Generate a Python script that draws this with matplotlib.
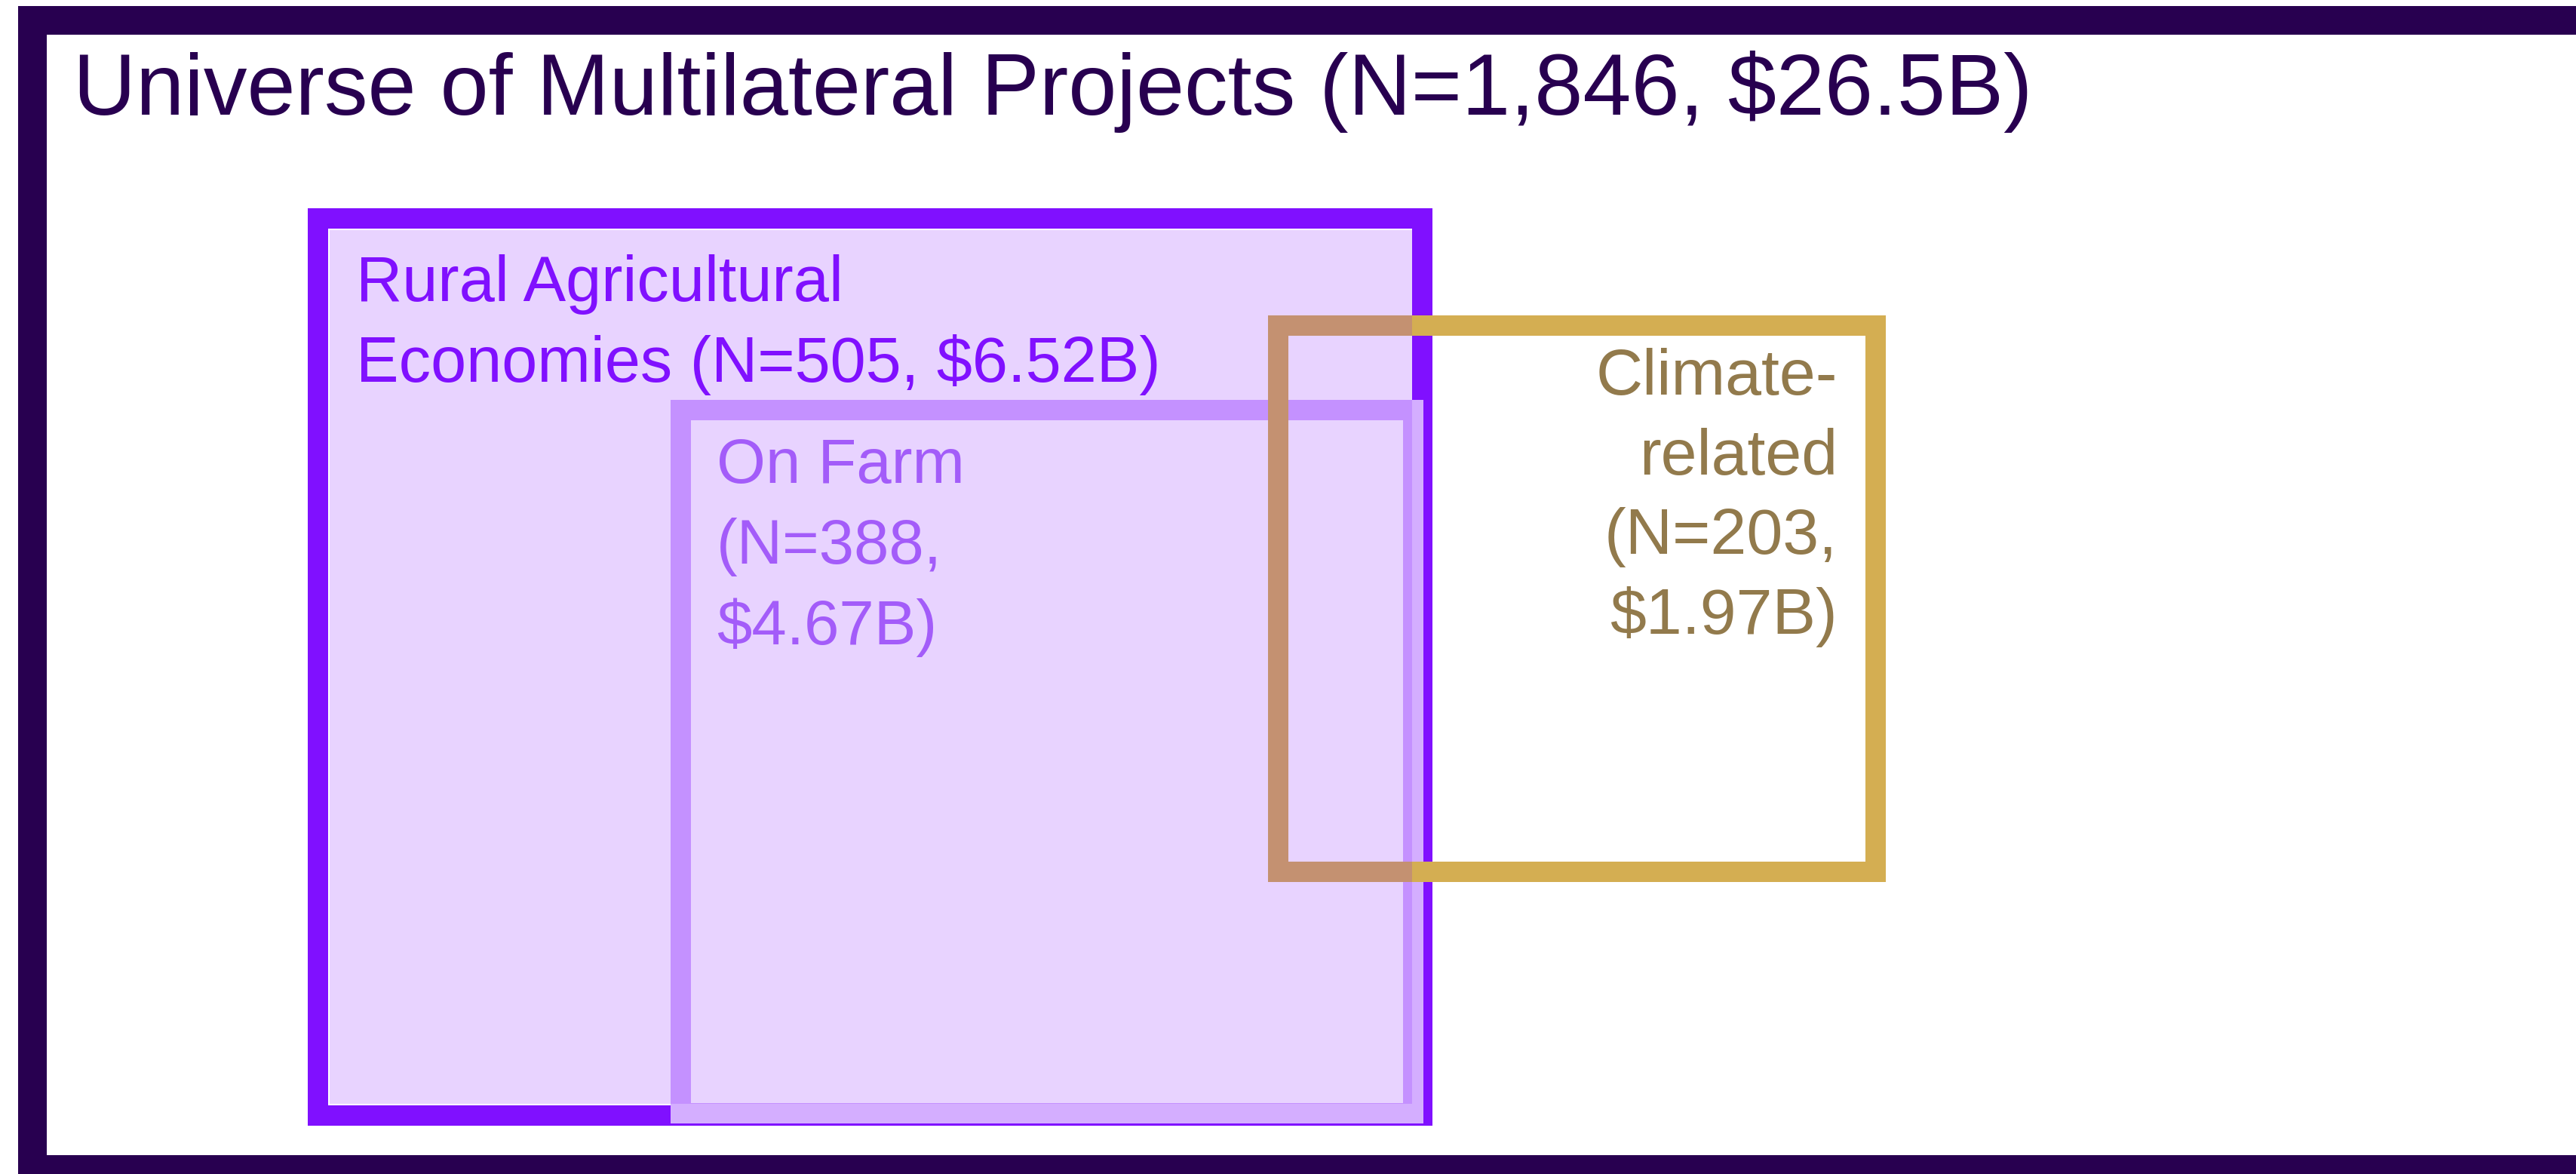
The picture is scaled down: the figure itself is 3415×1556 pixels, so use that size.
import matplotlib
matplotlib.use("Agg")
import matplotlib.pyplot as plt
from matplotlib.patches import Rectangle, PathPatch
from matplotlib.path import Path

# --- data ---
title = "Universe of Multilateral Projects (N=1,846, $26.5B)"
set_names = ["Rural Agricultural Economies", "On Farm", "Climate-related"]
set_counts = [505, 388, 203]
set_values = ["$6.52B", "$4.67B", "$1.97B"]
label_lines = [
    ["Rural Agricultural", "Economies (N=505, $6.52B)"],
    ["On Farm", "(N=388,", "$4.67B)"],
    ["Climate-", "related", "(N=203,", "$1.97B)"],
]

# --- layout (pixel coords, y down) ---
W, H = 3415, 1556

# outer box: left, top, right, bottom (outer edges), thickness
frame = (24, 8, 3460, 1569, 38)
# set boxes: left, top, right, bottom (outer edges)
boxes = [
    (408, 276, 1899, 1492),   # rural
    (889, 530, 1887, 1489),   # on farm
    (1681, 418, 2500, 1169),  # climate
]
thick = 27
edge_colors = ["#8010FF", "#D4AEFF", "#D4AE52"]
text_colors = ["#8010FF", "#A35CF9", "#927A4C"]

fig = plt.figure(figsize=(W / 100, H / 100), dpi=100)
ax = fig.add_axes([0, 0, 1, 1])
ax.set_xlim(0, W)
ax.set_ylim(H, 0)
ax.axis("off")

FONT = ["Liberation Sans", "DejaVu Sans"]


def ring(x0, y0, x1, y1, t, color, z):
    # square frame as a filled shape with a hole
    outer = [(x0, y0), (x1, y0), (x1, y1), (x0, y1), (x0, y0)]
    inner = [(x0 + t, y0 + t), (x0 + t, y1 - t), (x1 - t, y1 - t),
             (x1 - t, y0 + t), (x0 + t, y0 + t)]
    codes = [Path.MOVETO, Path.LINETO, Path.LINETO, Path.LINETO,
             Path.CLOSEPOLY] * 2
    ax.add_patch(PathPatch(Path(outer + inner, codes), facecolor=color,
                           edgecolor="none", zorder=z))


# outer frame
fx0, fy0, fx1, fy1, ft = frame
ring(fx0, fy0, fx1, fy1, ft, "#280050", 1)

# outlines: rural, on farm, climate (in that order)
for i, (x0, y0, x1, y1) in enumerate(boxes):
    ring(x0, y0, x1, y1, thick, edge_colors[i], 2 + i)

# translucent rural fill on top of the outlines
rx0, ry0, rx1, ry1 = boxes[0]
ax.add_patch(Rectangle((rx0 + thick + 2, ry0 + thick + 2),
                       (rx1 - thick) - (rx0 + thick + 2),
                       (ry1 - thick - 2) - (ry0 + thick + 2),
                       facecolor="#8010FF", alpha=0.18, edgecolor="none",
                       zorder=6))

# title
ax.text(97, 152, title, fontsize=83, family=FONT, color="#280050",
        ha="left", va="baseline", zorder=10)

# set labels
starts = [(472, 399, "left"), (950, 640, "left"), (2436, 523, "right")]
steps = [107, 107, 105.7]
sizes = [61, 60, 62]
for i, lines in enumerate(label_lines):
    x, y, ha = starts[i]
    for k, line in enumerate(lines):
        ax.text(x, y + k * steps[i], line,
                fontsize=sizes[i], family=FONT, color=text_colors[i],
                ha=ha, va="baseline", zorder=10)

fig.savefig("out.png", dpi=100, facecolor="white")
